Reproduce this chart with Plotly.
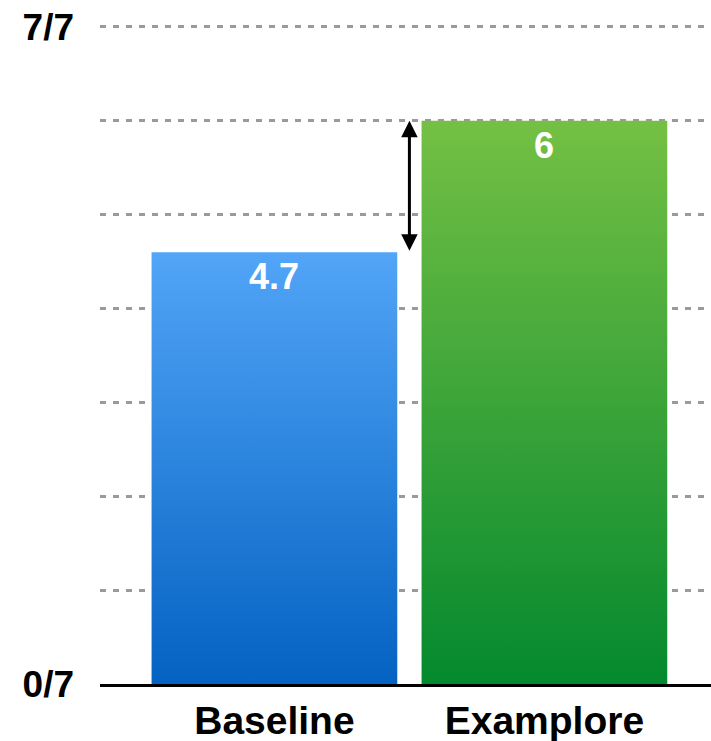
import plotly.graph_objects as go

categories = ["Baseline", "Examplore"]
values = [4.6, 6.0]
value_labels = ["4.7", "6"]
top_colors = ["#52A5F7", "#74C044"]
bottom_colors = ["#0462C2", "#04892E"]
y_tickvals = [0, 1, 2, 3, 4, 5, 6, 7]
y_ticktext = ["0/7", "", "", "", "", "", "", "7/7"]

bar_width = 0.91
font = "Liberation Sans, Arial, Helvetica, sans-serif"

fig = go.Figure()
for i, (cat, v) in enumerate(zip(categories, values)):
    x0, x1 = i - bar_width / 2, i + bar_width / 2
    fig.add_trace(go.Scatter(
        x=[x0, x1, x1, x0, x0], y=[0, 0, v, v, 0],
        mode="lines", line=dict(width=0), fill="toself",
        fillgradient=dict(type="vertical",
                          colorscale=[[0, bottom_colors[i]], [1, top_colors[i]]]),
        hoverinfo="skip", showlegend=False, name=cat,
    ))
    fig.add_annotation(
        x=i, y=v, xref="x", yref="y", text=value_labels[i], showarrow=False,
        yanchor="top", yshift=-2,
        font=dict(family=font, size=36, color="white", weight="bold"),
    )

# difference arrow between the two bars
fig.add_annotation(
    x=0.5, y=values[1], ax=0.5, ay=values[0], xref="x", yref="y",
    axref="x", ayref="y", text="", showarrow=True,
    arrowhead=2, startarrowhead=2, arrowside="end+start",
    arrowsize=1.1, startarrowsize=1.1, arrowwidth=3, arrowcolor="black",
)

fig.update_layout(
    width=711, height=741,
    margin=dict(l=100, r=0, t=22, b=57),
    plot_bgcolor="white", paper_bgcolor="white",
    xaxis=dict(
        range=[-0.646, 1.617], tickvals=list(range(len(categories))),
        ticktext=categories, showgrid=False, zeroline=False,
        showline=True, linecolor="black", linewidth=3, ticks="",
        tickfont=dict(family=font, size=39, color="black", weight="bold"),
        ticklabelstandoff=0, automargin=False, ticklabeloverflow="allow",
    ),
    yaxis=dict(
        range=[0, 7.053], tickvals=y_tickvals, ticktext=y_ticktext,
        showgrid=True, gridcolor="#9A9A9A", gridwidth=2.5, griddash="6px,7px",
        zeroline=False, showline=False, ticks="",
        tickfont=dict(family=font, size=37, color="black", weight="bold"),
        ticklabelstandoff=25, automargin=False, ticklabeloverflow="allow",
    ),
)

fig.write_html(
    "out.html",
    config={"displayModeBar": False},
    post_script="document.body.style.margin='0';document.body.style.overflow='hidden';",
)
